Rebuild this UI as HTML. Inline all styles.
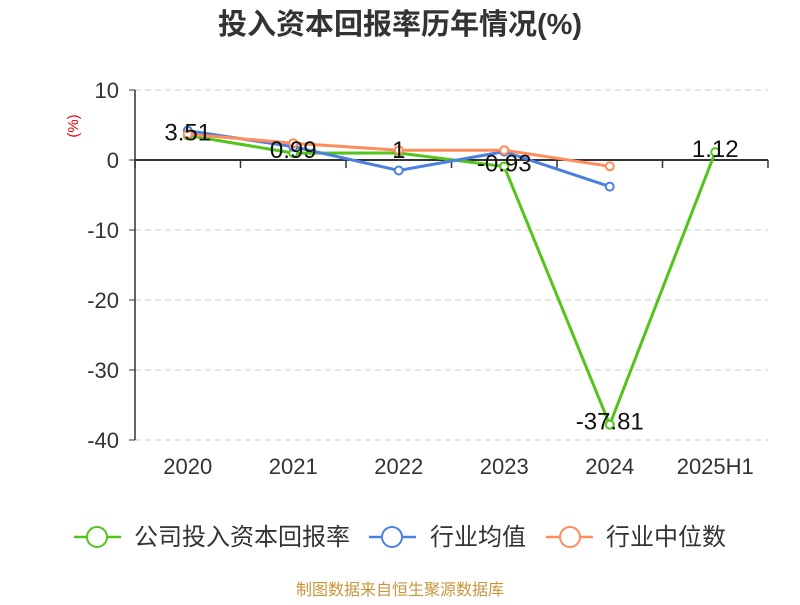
<!DOCTYPE html>
<html><head><meta charset="utf-8"><style>
body{margin:0;background:#fff;}
svg text{font-family:"Liberation Sans","Noto Sans CJK SC",sans-serif;}
</style></head><body>
<svg width="800" height="600" xmlns="http://www.w3.org/2000/svg">
<text x="400" y="34" text-anchor="middle" font-size="29" font-weight="bold" fill="#333">投入资本回报率历年情况(%)</text>
<text x="78" y="126" font-size="15" fill="#e00" transform="rotate(-90 78 126)" text-anchor="middle">(%)</text>
<g id="grid"></g><g id="axes"></g><g id="series"></g><g id="labels"></g>
<g>
<g><line x1="74" y1="537" x2="121" y2="537" stroke="#52c41a" stroke-width="2.5"/><circle cx="97" cy="537" r="10" fill="#fff" stroke="#52c41a" stroke-width="2"/><text x="134" y="545" font-size="24" fill="#333">公司投入资本回报率</text></g>
<g><line x1="369" y1="537" x2="416" y2="537" stroke="#4a80e0" stroke-width="2.5"/><circle cx="392" cy="537" r="10" fill="#fff" stroke="#4a80e0" stroke-width="2"/><text x="430" y="545" font-size="24" fill="#333">行业均值</text></g>
<g><line x1="546" y1="537" x2="593" y2="537" stroke="#ff8c5a" stroke-width="2.5"/><circle cx="570" cy="537" r="10" fill="#fff" stroke="#ff8c5a" stroke-width="2"/><text x="606" y="545" font-size="24" fill="#333">行业中位数</text></g>
</g>
<text x="400" y="595" text-anchor="middle" font-size="16" fill="#c8963c">制图数据来自恒生聚源数据库</text>
</svg>
<script>
const categories=["2020","2021","2022","2023","2024","2025H1"];
const roic=[3.51,0.99,1,-0.93,-37.81,1.12];
const industryAvg=[4.2,1.9,-1.5,1.2,-3.8,null];
const industryMedian=[3.7,2.4,1.4,1.4,-0.9,null];
const roicLabels=["3.51","0.99","1","-0.93","-37.81","1.12"];
const yTicks=[10,0,-10,-20,-30,-40];
const NS="http://www.w3.org/2000/svg";
const x0=135,x1=768,yTop=90,yBot=440;
const band=(x1-x0)/categories.length;
const X=i=>x0+band*(i+0.5);
const Y=v=>yTop+(10-v)/50*(yBot-yTop);
function mk(tag,attrs,parent){const e=document.createElementNS(NS,tag);for(const k in attrs)e.setAttribute(k,attrs[k]);parent.appendChild(e);return e;}
const grid=document.getElementById('grid'),axes=document.getElementById('axes'),ser=document.getElementById('series'),lab=document.getElementById('labels');
yTicks.forEach(t=>{
 if(t!==0){const l=mk('line',{x1:x0,x2:x1,y1:Y(t),y2:Y(t),stroke:'#ccc','stroke-dasharray':'6,4'},grid);
 
 }
 const tx=mk('text',{x:x0-16,y:Y(t)+8,'text-anchor':'end','font-size':22,fill:'#333'},axes);
 tx.textContent=t;
 
 
 const tk=mk('line',{x1:x0-6,x2:x0,y1:Y(t),y2:Y(t),stroke:'#333'},axes);
 
 
});
const ya=mk('line',{x1:x0,x2:x0,y1:yTop,y2:yBot,stroke:'#333','stroke-width':1.5},axes);


const xa=mk('line',{x1:x0,x2:x1,y1:Y(0),y2:Y(0),stroke:'#333','stroke-width':2},axes);


for(let i=0;i<=categories.length;i++){const tk=mk('line',{x1:x0+band*i,x2:x0+band*i,y1:Y(0),y2:Y(0)+8,stroke:'#333','stroke-width':1.5},axes);
 
 }
categories.forEach((c,i)=>{const t=mk('text',{x:X(i),y:474,'text-anchor':'middle','font-size':22,fill:'#333'},axes);t.textContent=c;
 
 });
function series(vals,color,name){
 const g=mk('g',{},ser);
 
 
 const pts=vals.map((v,i)=>v===null?null:[X(i),Y(v)]).filter(p=>p);
 mk('polyline',{points:pts.map(p=>p.join(',')).join(' '),fill:'none',stroke:color,'stroke-width':3},g);
 pts.forEach(p=>{const c=mk('circle',{cx:p[0],cy:p[1],r:4,fill:'#fff',stroke:color,'stroke-width':2},g);
  
  });
}
series(roic,'#52c41a','roic-series');
series(industryAvg,'#4a80e0','industry-avg-series');
series(industryMedian,'#ff8c5a','industry-median-series');
roic.forEach((v,i)=>{const t=mk('text',{x:X(i),y:Y(v)+5,'text-anchor':'middle','font-size':24,fill:'#111'},lab);t.textContent=roicLabels[i];
 
 });
</script>
</body></html>
